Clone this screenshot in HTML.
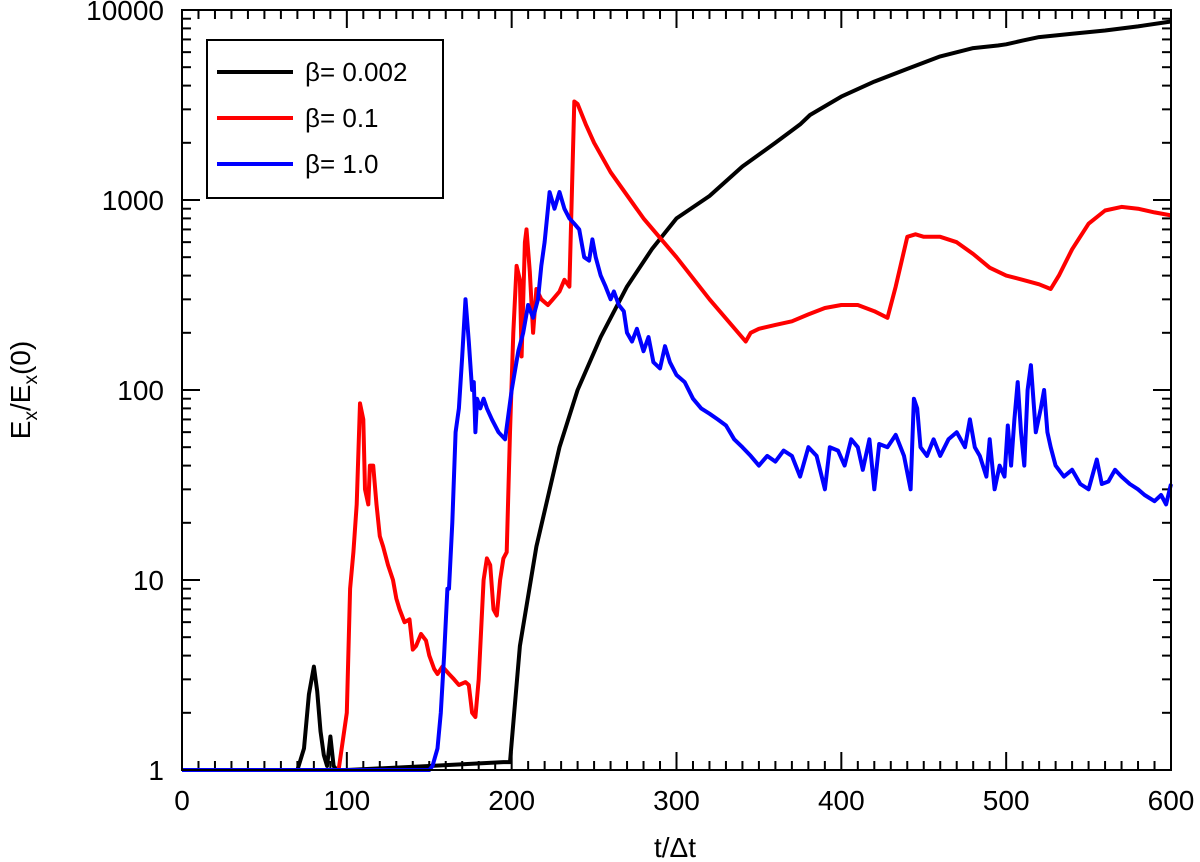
<!DOCTYPE html>
<html><head><meta charset="utf-8"><style>
body{margin:0;background:#fff}
svg{display:block;font-family:"Liberation Sans",Arial,sans-serif}
</style></head><body>
<svg id="chart" width="1200" height="862">
<g id="ticks"></g>
<g id="series"></g>
<rect x="182" y="10" width="989" height="760" fill="none" stroke="#000" stroke-width="2"/>
<text x="675" y="857" font-size="28" text-anchor="middle">t/Δt</text>
<text transform="translate(30,390) rotate(-90)" font-size="28" text-anchor="middle">E<tspan font-size="19" dy="7">x</tspan><tspan dy="-7">/E</tspan><tspan font-size="19" dy="7">x</tspan><tspan dy="-7">(0)</tspan></text>
<g>
<rect x="207" y="40" width="236" height="158" fill="#fff" stroke="#000" stroke-width="2"/>
<line x1="217" x2="293" y1="72" y2="72" stroke="#000" stroke-width="4"/>
<text x="305" y="81" font-size="26">β= 0.002</text>
<line x1="217" x2="293" y1="118" y2="118" stroke="#f00" stroke-width="4"/>
<text x="305" y="127" font-size="26">β= 0.1</text>
<line x1="217" x2="293" y1="164" y2="164" stroke="#00f" stroke-width="4"/>
<text x="305" y="173" font-size="26">β= 1.0</text>
</g>
</svg>
<script>
const xTicks=[0,100,200,300,400,500,600];
const yTicks=[1,10,100,1000,10000];
const blackT=[0,70,74,77,80,82,84,86,88,90,92,94,100,150,195,199,205,215,229,240,254,270,285,300,320,340,360,375,381,400,420,440,460,480,495,500,510,520,540,560,580,600];
const blackV=[1,1,1.3,2.5,3.5,2.6,1.6,1.2,1.05,1.5,1.05,1,1,1.05,1.1,1.1,4.5,15,50,100,190,350,550,800,1050,1500,2000,2500,2800,3500,4200,4900,5700,6300,6500,6600,6900,7200,7500,7800,8200,8700];
const redT=[0,95,100,102,104,106,108,110,111,113,114,116,118,120,122,125,128,130,132,135,138,140,142,145,148,150,153,155,158,162,165,168,172,174,176,178,180,183,185,187,189,191,193,195,197,199,201,203,205,206,208,209,211,213,215,218,222,225,229,232,235,238,240,245,250,260,280,300,320,342,345,350,360,370,380,390,400,410,420,428,433,440,445,450,460,470,480,490,500,510,520,527,532,540,550,560,570,580,590,600];
const redV=[1,1,2,9,14,25,85,70,30,25,40,40,25,17,15,12,10,8,7,6,6.2,4.3,4.5,5.2,4.8,4,3.4,3.2,3.5,3.2,3,2.8,2.9,2.8,2,1.9,3,10,13,12,7,6.5,10,13,14,60,200,450,380,150,600,700,420,200,340,300,280,300,330,380,350,3300,3200,2500,2000,1400,800,500,300,180,200,210,220,230,250,270,280,280,260,240,350,640,660,640,640,600,520,440,400,380,360,340,400,550,750,880,920,900,860,830];
const blueT=[0,150,152,155,157,159,161,162,164,166,168,170,172,174,176,177,178,179,181,183,185,188,192,196,200,204,207,210,213,216,218,220,223,226,229,232,235,238,241,244,247,249,251,254,257,260,262,265,268,270,273,276,280,283,286,290,293,296,300,305,310,315,320,325,330,335,340,345,350,355,360,365,370,375,380,385,390,393,398,402,406,410,413,417,420,423,428,433,438,442,444,446,448,452,456,460,465,470,475,478,481,484,488,490,493,496,499,501,503,505,507,509,511,513,515,518,521,523,525,527,530,535,540,545,550,555,558,562,566,570,575,580,584,590,594,597,600];
const blueV=[1,1,1.05,1.3,2,4,9,9,20,60,80,150,300,180,100,110,60,90,80,90,80,70,60,55,100,160,200,280,240,300,450,600,1100,900,1100,900,800,750,700,500,480,620,500,400,350,300,330,280,260,200,180,210,160,190,140,130,170,140,120,110,90,80,75,70,65,55,50,45,40,45,42,48,45,35,50,45,30,50,48,40,55,50,38,55,30,52,50,58,45,30,90,80,50,45,55,45,55,60,50,70,50,45,35,55,30,40,35,65,40,70,110,60,40,100,135,60,80,100,60,50,40,35,38,32,30,43,32,33,38,35,32,30,28,26,28,25,32];
const X0=182,X1=1171,Y0=770,DEC=190;
const xs=t=>X0+(X1-X0)*t/600;
const ys=v=>Y0-DEC*Math.log10(v);
const NS="http://www.w3.org/2000/svg";
const tg=document.getElementById('ticks'),sg=document.getElementById('series');
function ln(x1,y1,x2,y2){const l=document.createElementNS(NS,'line');l.setAttribute('x1',x1);l.setAttribute('y1',y1);l.setAttribute('x2',x2);l.setAttribute('y2',y2);l.setAttribute('stroke','#000');l.setAttribute('stroke-width','2');


tg.appendChild(l);}
function txt(x,y,s,anchor,name){const t=document.createElementNS(NS,'text');t.setAttribute('x',x);t.setAttribute('y',y);t.setAttribute('font-size','28');t.setAttribute('text-anchor',anchor);t.textContent=s;


tg.appendChild(t);}
for(let t=0;t<=600;t+=10){const major=t%100===0,L=major?18:9,x=xs(t);ln(x,Y0,x,Y0-L);ln(x,10,x,10+L);}
xTicks.forEach(t=>txt(xs(t),810,String(t),'middle','x-tick-label'));
for(let d=0;d<4;d++)for(let m=1;m<10;m++){const v=m*Math.pow(10,d),y=ys(v),L=m===1?18:9;ln(X0,y,X0+L,y);ln(X1,y,X1-L,y);}
ln(X0,10,X0+18,10);ln(X1,10,X1-18,10);
yTicks.forEach(v=>txt(164,ys(v)+10,String(v),'end','y-tick-label'));
function series(T,V,c,name){const p=document.createElementNS(NS,'polyline');p.setAttribute('points',T.map((t,i)=>xs(t).toFixed(1)+','+ys(V[i]).toFixed(1)).join(' '));p.setAttribute('fill','none');p.setAttribute('stroke',c);p.setAttribute('stroke-width','4');p.setAttribute('stroke-linejoin','round');


sg.appendChild(p);}
series(blackT,blackV,'#000','series-beta-0.002');
series(redT,redV,'#f00','series-beta-0.1');
series(blueT,blueV,'#00f','series-beta-1.0');
</script>
</body></html>
